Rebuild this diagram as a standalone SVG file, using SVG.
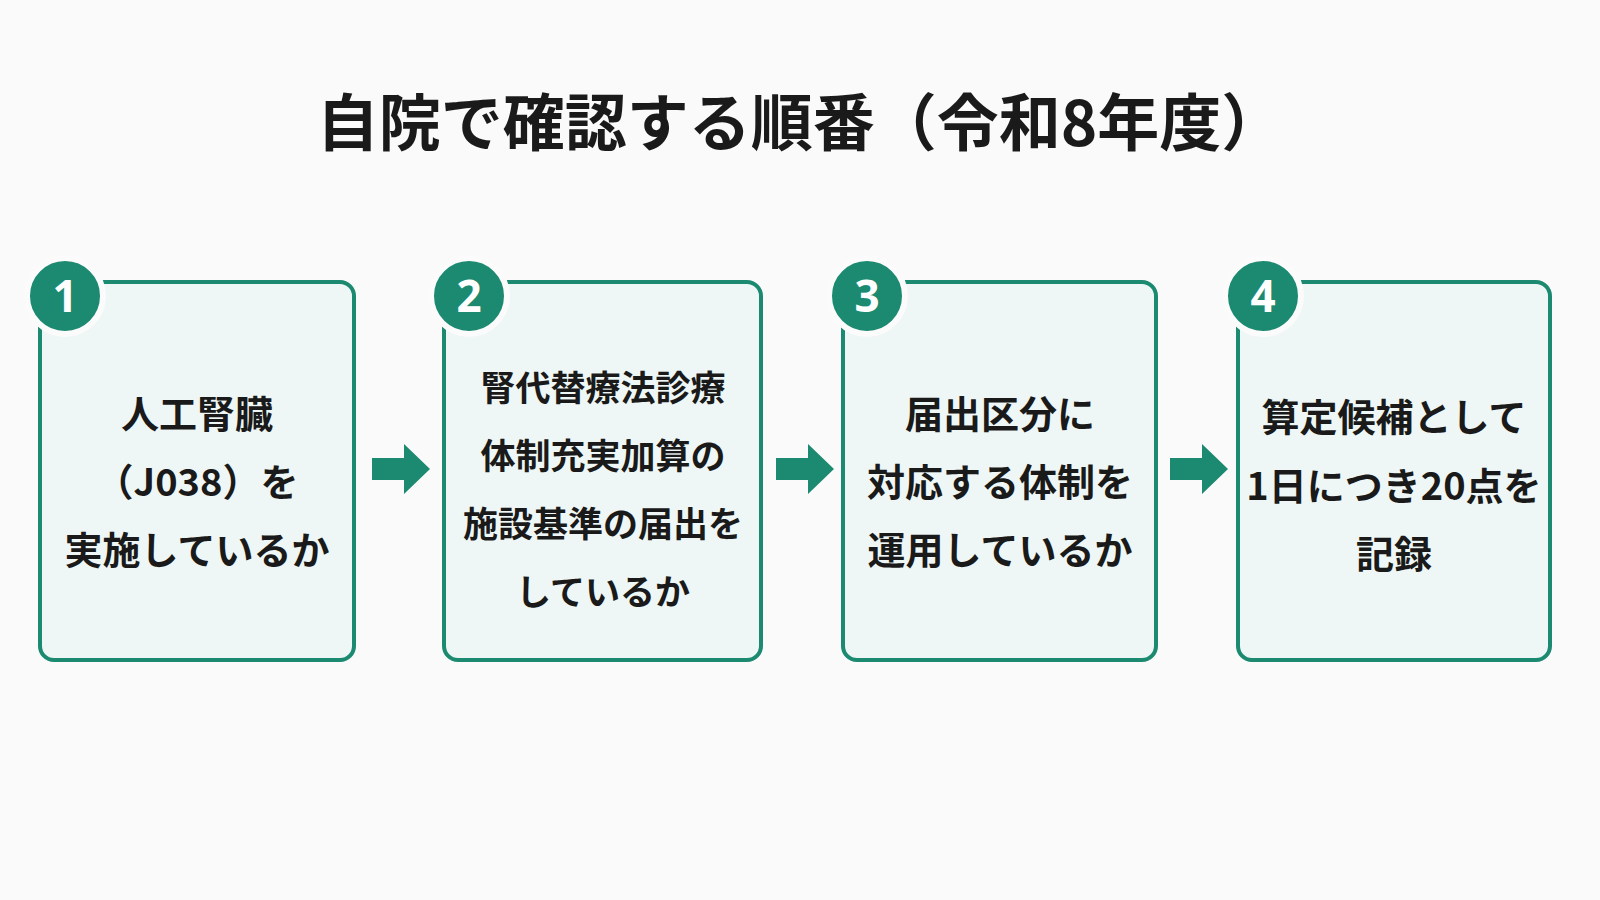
<svg xmlns="http://www.w3.org/2000/svg" width="1600" height="900" viewBox="0 0 1600 900">
<defs>
<style>
.box{fill:#eef7f5;stroke:#1b8a70;stroke-width:4}
.c{fill:#1b8a70;stroke:#fbfbfb;stroke-width:6}
.n{font-family:"Noto Sans","Noto Sans CJK JP",sans-serif;font-weight:700;font-size:44px;fill:#fff;text-anchor:middle}
.t{font-family:"Noto Sans CJK JP",sans-serif;font-weight:700;font-size:38px;fill:#1a1a1a;text-anchor:middle}
.s{font-size:35px}
.ar{fill:#1b8a70}
</style>
</defs>
<rect width="1600" height="900" fill="#fafafa"/>
<text x="800" y="146" font-family="Noto Sans CJK JP,sans-serif" font-weight="700" font-size="62" fill="#1a1a1a" text-anchor="middle">自院で確認する順番（令和8年度）</text>
<g id="connectors">
<polygon class="ar" points="372,458 404,458 404,444 430,469 404,494 404,480 372,480"/>
<polygon class="ar" points="776,458 808,458 808,444 834,469 808,494 808,480 776,480"/>
<polygon class="ar" points="1170,458 1202,458 1202,444 1228,469 1202,494 1202,480 1170,480"/>
</g>
<g id="node1">
<rect class="box" x="40" y="282" width="314" height="378" rx="14"/>
<circle class="c" cx="65" cy="296" r="38"/><text class="n" x="65" y="312">1</text>
<text class="t" x="197" y="428">人工腎臓</text>
<text class="t" x="197" y="496">（J038）を</text>
<text class="t" x="197" y="564">実施しているか</text>
</g>
<g id="node2">
<rect class="box" x="444" y="282" width="317" height="378" rx="14"/>
<circle class="c" cx="469" cy="296" r="38"/><text class="n" x="469" y="312">2</text>
<text class="t s" x="603" y="401">腎代替療法診療</text>
<text class="t s" x="603" y="469">体制充実加算の</text>
<text class="t s" x="603" y="537">施設基準の届出を</text>
<text class="t s" x="603" y="605">しているか</text>
</g>
<g id="node3">
<rect class="box" x="843" y="282" width="313" height="378" rx="14"/>
<circle class="c" cx="867" cy="296" r="38"/><text class="n" x="867" y="312">3</text>
<text class="t" x="1000" y="428">届出区分に</text>
<text class="t" x="1000" y="496">対応する体制を</text>
<text class="t" x="1000" y="564">運用しているか</text>
</g>
<g id="node4">
<rect class="box" x="1238" y="282" width="312" height="378" rx="14"/>
<circle class="c" cx="1263" cy="296" r="38"/><text class="n" x="1263" y="312">4</text>
<text class="t" x="1394" y="431">算定候補として</text>
<text class="t" x="1394" y="500">1日につき20点を</text>
<text class="t" x="1394" y="568">記録</text>
</g>
</svg>
